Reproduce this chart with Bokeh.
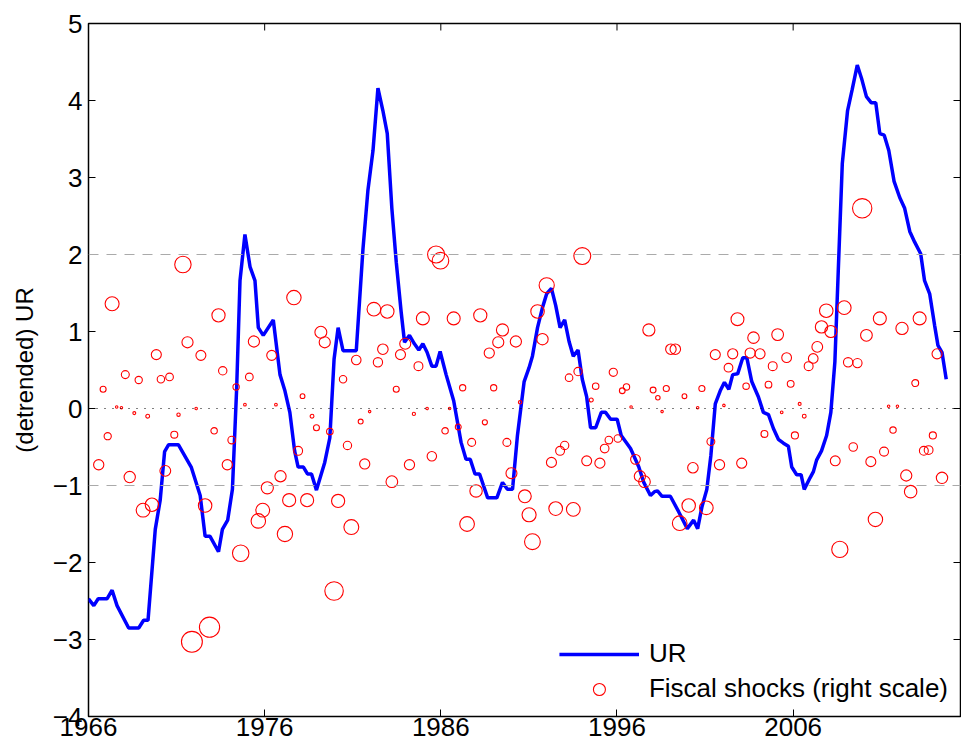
from bokeh.plotting import figure
from bokeh.models import Span, FixedTicker, Legend, LegendItem, ColumnDataSource
from bokeh.embed import file_html
from bokeh.resources import INLINE
import numpy as np

# UR (detrended)
ur_year = [1966.0, 1966.3, 1966.55, 1967.06, 1967.34, 1967.62, 1968.28, 1968.85, 1969.13, 1969.38,
           1969.79, 1970.07, 1970.32, 1970.55, 1971.1, 1971.83, 1972.34, 1972.62, 1972.9, 1973.38,
           1973.6, 1973.9, 1974.17, 1974.41, 1974.6, 1974.88, 1975.17, 1975.45, 1975.64, 1975.92,
           1976.49, 1976.87, 1977.15, 1977.43, 1977.7, 1977.9, 1978.2, 1978.43, 1978.66, 1978.94,
           1979.41, 1979.7, 1979.94, 1980.17, 1980.45, 1981.2, 1981.58, 1981.86, 1982.15, 1982.43,
           1982.71, 1982.96, 1983.22, 1983.47, 1983.75, 1983.94, 1984.22, 1984.5, 1984.75, 1984.98,
           1985.22, 1985.49, 1985.73, 1985.96, 1986.3, 1986.73, 1987.15, 1987.43, 1987.67, 1987.94,
           1988.2, 1988.66, 1989.18, 1989.5, 1989.78, 1990.07, 1990.35, 1990.73, 1991.01, 1991.2,
           1991.49, 1991.77, 1992.01, 1992.28, 1992.52, 1992.77, 1993.03, 1993.28, 1993.52, 1993.79,
           1994.03, 1994.28, 1994.5, 1994.79, 1995.11, 1995.35, 1995.64, 1996.01, 1996.24, 1996.77,
           1997.24, 1997.52, 1997.9, 1998.13, 1998.3, 1998.56, 1999.03, 1999.5, 1999.99, 2000.35,
           2000.58, 2000.82, 2001.1, 2001.33, 2001.58, 2001.86, 2002.1, 2002.35, 2002.57, 2002.85,
           2003.14, 2003.37, 2003.65, 2004.03, 2004.31, 2004.6, 2004.88, 2005.16, 2005.45, 2005.73,
           2005.92, 2006.2, 2006.45, 2006.63, 2006.96, 2007.15, 2007.33, 2007.61, 2007.9, 2008.14,
           2008.37, 2008.56, 2008.79, 2009.09, 2009.35, 2009.64, 2009.88, 2010.16, 2010.44, 2010.69,
           2010.92, 2011.17, 2011.43, 2011.73, 2012.05, 2012.33, 2012.62, 2012.9, 2013.24, 2013.46,
           2013.75, 2014.03, 2014.22, 2014.45, 2014.69]
ur_value = [-2.47, -2.56, -2.47, -2.47, -2.36, -2.56, -2.85, -2.85, -2.75, -2.75,
            -1.57, -1.19, -0.56, -0.47, -0.47, -0.76, -1.13, -1.66, -1.66, -1.86,
            -1.57, -1.45, -1.05, 0.26, 1.66, 2.26, 1.84, 1.66, 1.05, 0.95,
            1.15, 0.44, 0.23, -0.05, -0.55, -0.76, -0.76, -0.85, -0.85, -1.06,
            -0.70, -0.38, 0.64, 1.05, 0.75, 0.75, 2.07, 2.83, 3.35, 4.16,
            3.87, 3.57, 2.6, 1.9, 1.25, 0.86, 0.95, 0.84, 0.76, 0.84,
            0.73, 0.55, 0.55, 0.74, 0.44, 0.1, -0.44, -0.66, -0.66, -0.85,
            -0.85, -1.16, -1.16, -0.96, -1.05, -1.05, -0.35, 0.35, 0.53, 0.68,
            1.05, 1.31, 1.49, 1.56, 1.34, 1.05, 1.15, 0.87, 0.68, 0.76,
            0.38, 0.15, -0.25, -0.25, -0.05, -0.05, -0.14, -0.14, -0.35, -0.52,
            -0.76, -0.96, -1.13, -1.08, -1.07, -1.14, -1.14, -1.34, -1.56, -1.45,
            -1.56, -1.28, -1.05, -0.61, 0.06, 0.23, 0.34, 0.25, 0.44, 0.45,
            0.66, 0.66, 0.35, 0.15, -0.05, -0.08, -0.26, -0.4, -0.45, -0.49,
            -0.76, -0.86, -0.86, -1.05, -0.9, -0.82, -0.67, -0.55, -0.35, -0.05,
            0.61, 1.78, 3.18, 3.87, 4.14, 4.46, 4.29, 4.05, 3.97, 3.97,
            3.57, 3.55, 3.35, 2.95, 2.74, 2.6, 2.3, 2.16, 2.01, 1.66,
            1.49, 1.08, 0.82, 0.73, 0.38]

# fiscal shocks
fs_year = [1966.58, 1966.83, 1967.09, 1967.34, 1967.6, 1967.87, 1968.09, 1968.34, 1968.6, 1968.85,
           1969.1, 1969.36, 1969.6, 1969.85, 1970.11, 1970.36, 1970.6, 1970.87, 1971.11, 1971.36,
           1971.62, 1971.87, 1972.11, 1972.38, 1972.62, 1972.87, 1973.13, 1973.38, 1973.62, 1973.88,
           1974.13, 1974.38, 1974.64, 1974.88, 1975.13, 1975.39, 1975.64, 1975.89, 1976.15, 1976.4,
           1976.64, 1976.9, 1977.15, 1977.39, 1977.66, 1977.9, 1978.15, 1978.41, 1978.69, 1978.94,
           1979.19, 1979.41, 1979.7, 1979.94, 1980.17, 1980.45, 1980.7, 1980.92, 1981.2, 1981.45,
           1981.68, 1981.96, 1982.2, 1982.43, 1982.71, 1982.96, 1983.22, 1983.47, 1983.71, 1983.98,
           1984.22, 1984.47, 1984.73, 1984.98, 1985.22, 1985.49, 1985.73, 1985.98, 1986.24, 1986.5,
           1986.73, 1986.99, 1987.24, 1987.49, 1987.75, 1988.0, 1988.24, 1988.5, 1988.75, 1989.0,
           1989.26, 1989.5, 1989.75, 1990.01, 1990.26, 1990.5, 1990.77, 1991.01, 1991.2, 1991.49,
           1991.77, 1992.01, 1992.28, 1992.52, 1992.77, 1993.03, 1993.28, 1993.52, 1993.79, 1994.03,
           1994.28, 1994.54, 1994.79, 1995.03, 1995.3, 1995.54, 1995.79, 1996.05, 1996.3, 1996.54,
           1996.8, 1997.05, 1997.3, 1997.56, 1997.81, 1998.05, 1998.32, 1998.56, 1998.8, 1999.06,
           1999.31, 1999.56, 1999.83, 2000.07, 2000.31, 2000.58, 2000.82, 2001.07, 2001.33, 2001.58,
           2001.82, 2002.07, 2002.33, 2002.57, 2002.84, 2003.08, 2003.33, 2003.56, 2003.75, 2004.12,
           2004.37, 2004.6, 2004.84, 2005.12, 2005.35, 2005.63, 2005.86, 2006.1, 2006.37, 2006.63,
           2006.88, 2007.14, 2007.37, 2007.61, 2007.88, 2008.14, 2008.39, 2008.65, 2008.9, 2009.12,
           2009.41, 2009.65, 2009.92, 2010.16, 2010.41, 2010.67, 2010.92, 2011.16, 2011.42, 2011.67,
           2011.92, 2012.18, 2012.42, 2012.67, 2012.93, 2013.18, 2013.42, 2013.69, 2013.93, 2014.17,
           2014.45]
fs_value = [-0.73, 0.25, -0.36, 1.36, 0.02, 0.01, 0.44, -0.89, -0.06, 0.37,
            -1.32, -0.1, -1.25, 0.70, 0.38, -0.81, 0.41, -0.34, -0.08, 1.87,
            0.86, -3.03, 0.0, 0.69, -1.26, -2.84, -0.29, 1.21, 0.49, -0.73,
            -0.41, 0.28, -1.88, 0.05, 0.41, 0.87, -1.46, -1.32, -1.03, 0.69,
            0.05, -0.88, -1.63, -1.19, 1.44, -0.55, 0.16, -1.19, -0.1, -0.25,
            0.99, 0.86, -0.3, -2.37, -1.2, 0.38, -0.48, -1.54, 0.63, -0.17,
            -0.72, -0.04, 1.29, 0.60, 0.77, 1.26, -0.95, 0.25, 0.70, 0.84,
            -0.73, -0.07, 0.55, 1.17, 0.0, -0.62, 2.0, 1.92, -0.29, 0.0,
            1.17, -0.24, 0.27, -1.5, -0.44, -1.07, 1.21, -0.18, 0.72, 0.27,
            0.86, 1.02, -0.44, -0.84, 0.87, 0.08, -1.14, -1.38, -1.73, 1.26,
            0.9, 1.6, -0.7, -1.3, -0.55, -0.48, 0.4, -1.31, 0.48, 1.98,
            -0.68, 0.11, 0.29, -0.71, -0.52, -0.41, 0.47, -0.39, 0.23, 0.28,
            0.02, -0.66, -0.88, -0.95, 1.02, 0.24, 0.14, -0.04, 0.26, 0.77,
            0.77, -1.49, 0.16, -1.26, -0.77, 0.01, 0.26, -1.29, -0.43, 0.70,
            -0.73, 0.04, 0.53, 0.71, 1.16, -0.71, 0.29, 0.72, 0.92, 0.71,
            -0.33, 0.31, 0.55, 0.96, -0.05, 0.66, 0.32, -0.35, 0.06, -0.1,
            0.55, 0.65, 0.8, 1.06, 1.27, 1.0, -0.68, -1.83, 1.31, 0.6,
            -0.5, 0.59, 2.6, 0.95, -0.69, -1.44, 1.17, -0.56, 0.03, -0.28,
            0.03, 1.04, -0.87, -1.08, 0.33, 1.17, -0.55, -0.54, -0.35, 0.71,
            -0.9]

x_ticks = [1966, 1976, 1986, 1996, 2006]
y_ticks = [-4, -3, -2, -1, 0, 1, 2, 3, 4, 5]
X0, X1, Y0, Y1 = 1966, 2015.5, -4, 5

FONT = "Liberation Sans"
FS = "26px"

p = figure(width=961, height=752, x_range=(X0, X1), y_range=(Y0, Y1),
           output_backend="svg", toolbar_location=None,
           min_border_left=88, min_border_right=1, min_border_top=23, min_border_bottom=36)
p.grid.visible = False
p.outline_line_color = "black"
p.outline_line_width = 1.5

for ax, ticks in ((p.xaxis[0], x_ticks), (p.yaxis[0], y_ticks)):
    ax.ticker = FixedTicker(ticks=ticks)
    ax.major_tick_in = 7
    ax.major_tick_out = 0
    ax.minor_tick_line_color = None
    ax.axis_line_color = None
    ax.major_label_text_font = FONT
    ax.major_label_text_font_size = FS
    ax.major_label_text_color = "black"
p.yaxis.major_label_overrides = {t: str(t).replace("-", "\u2212") for t in y_ticks}
p.yaxis.major_label_standoff = 6
p.yaxis.axis_label = "(detrended) UR"
p.yaxis.axis_label_text_font = FONT
p.yaxis.axis_label_text_font_size = "24px"
p.yaxis.axis_label_text_font_style = "normal"
p.yaxis.axis_label_text_color = "black"
p.yaxis.axis_label_standoff = 12
p.xaxis.major_label_standoff = 1

# inward tick marks on the top and right sides (7px long)
tx = 7 * (Y1 - Y0) / 693
ty = 7 * (X1 - X0) / 873
p.segment(x0=x_ticks, x1=x_ticks, y0=[Y1] * len(x_ticks), y1=[Y1 - tx] * len(x_ticks),
          line_color="black", line_width=1)
p.segment(x0=[X1] * len(y_ticks), x1=[X1 - ty] * len(y_ticks), y0=y_ticks, y1=y_ticks,
          line_color="black", line_width=1)

p.add_layout(Span(location=2, dimension="width", line_color="#aaaaaa", line_dash="10 8", line_width=1))
p.add_layout(Span(location=-1, dimension="width", line_color="#aaaaaa", line_dash="10 8", line_width=1))
p.add_layout(Span(location=0, dimension="width", line_color="black", line_dash="1 7", line_width=1))

ur_line = p.line(ur_year, ur_value, line_color="#0000ff", line_width=3.5)

fs_src = ColumnDataSource(dict(x=fs_year, y=fs_value,
                               s=np.maximum(2.5, 12 * np.sqrt(np.abs(np.array(fs_value))))))
p.scatter("x", "y", size="s", source=fs_src, fill_color=None,
          line_color="#ff0000", line_width=1.1)
fs_leg = p.scatter([X0], [Y1 + 5], size=16, fill_color=None, line_color="#ff0000", line_width=1.1)

legend = Legend(items=[LegendItem(label="UR", renderers=[ur_line]),
                       LegendItem(label="Fiscal shocks (right scale)", renderers=[fs_leg])],
                location="bottom_right", border_line_color=None, background_fill_alpha=0,
                label_text_font=FONT, label_text_font_size=FS, label_text_color="black",
                glyph_width=80, glyph_height=30, label_height=30, label_standoff=10,
                spacing=4, margin=12, padding=0)
p.add_layout(legend)

open("out.html", "w").write(file_html(p, INLINE))
